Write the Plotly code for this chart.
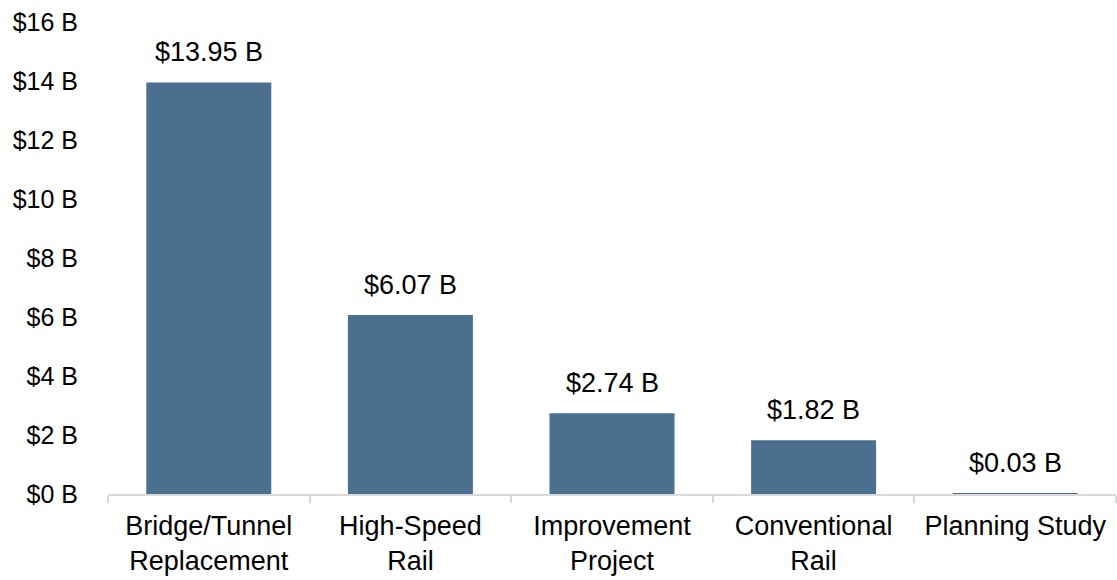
import plotly.graph_objects as go

# Funding totals by project type (billions of dollars)
categories = [
    "Bridge/Tunnel<br>Replacement",
    "High-Speed<br>Rail",
    "Improvement<br>Project",
    "Conventional<br>Rail",
    "Planning Study",
]
funding_billions = [13.95, 6.07, 2.74, 1.82, 0.03]
y_tick_values = [0, 2, 4, 6, 8, 10, 12, 14, 16]
y_tick_labels = [f"${v} B" for v in y_tick_values]

FONT = "Liberation Sans"
BAR_COLOR = "#4B6F8E"
AXIS_COLOR = "#D9D9D9"

fig = go.Figure(
    go.Bar(
        x=categories,
        y=funding_billions,
        marker=dict(color=BAR_COLOR, line=dict(width=0)),
        hoverinfo="skip",
    )
)

# Value labels above each bar
for cat, val in zip(categories, funding_billions):
    fig.add_annotation(
        x=cat,
        y=val,
        text=f"${val:.2f} B",
        showarrow=False,
        yanchor="bottom",
        yshift=13,
        font=dict(family=FONT, size=27, color="#000000"),
    )

fig.update_layout(
    width=1117,
    height=580,
    margin=dict(l=108, r=1, t=22, b=86),
    paper_bgcolor="white",
    plot_bgcolor="white",
    bargap=0.38,
    showlegend=False,
    font=dict(family=FONT, color="#000000"),
)

fig.update_xaxes(
    automargin=False,
    showline=True,
    linecolor=AXIS_COLOR,
    linewidth=1.5,
    ticks="outside",
    tickson="boundaries",
    ticklen=7,
    tickcolor=AXIS_COLOR,
    tickwidth=1.5,
    showgrid=False,
    tickfont=dict(family=FONT, size=27, color="#000000"),
    ticklabelstandoff=7,
)

fig.update_yaxes(
    automargin=False,
    range=[0, 16],
    tickvals=y_tick_values,
    ticktext=y_tick_labels,
    showgrid=False,
    zeroline=False,
    showline=False,
    ticks="",
    tickfont=dict(family=FONT, size=25, color="#000000"),
    ticklabelstandoff=29,
)

fig.write_html("out.html")
